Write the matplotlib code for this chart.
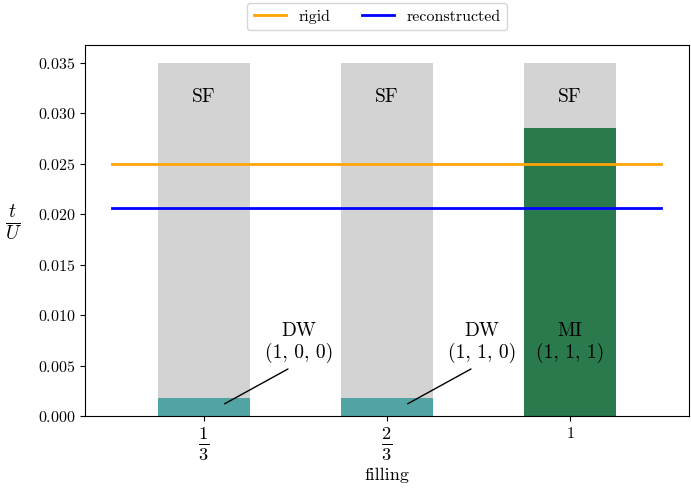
import numpy as np
import matplotlib
matplotlib.use("Agg")
import matplotlib.pyplot as plt

plt.rcParams['font.family'] = 'cmr10'
plt.rcParams['mathtext.fontset'] = 'cm'
plt.rcParams['axes.formatter.use_mathtext'] = True

# phase diagram data per filling
fillings = [r'$\frac{1}{3}$', r'$\frac{2}{3}$', r'$1$']
t_max = [0.035, 0.035, 0.035]          # top of the SF region
t_c = [0.0018, 0.0018, 0.0285]         # insulating -> SF transition
phase_names = ['DW\n(1, 0, 0)', 'DW\n(1, 1, 0)', 'MI\n(1, 1, 1)']
phase_colors = ['#52a3a3', '#52a3a3', '#2a7a4e']
t_rigid = 0.025
t_reconstructed = 0.0206

x = np.arange(len(fillings))
width = 0.5

fig = plt.figure(figsize=(6.91, 4.90), dpi=100)
ax = fig.add_axes([0.123, 0.151, 0.874, 0.757])

ax.bar(x, t_max, width, color='lightgray')
ax.bar(x, t_c, width, color=phase_colors)

ax.plot([-0.5, 2.5], [t_rigid, t_rigid], color='orange', lw=2, label='rigid')
ax.plot([-0.5, 2.5], [t_reconstructed, t_reconstructed], color='blue', lw=2,
        label='reconstructed')

for xi, top in zip(x, t_max):
    ax.text(xi, top - 0.0034, 'SF', ha='center', va='center', fontsize=14)

# DW labels sit beside the thin bars with a pointer line
for xi, tc, name in zip(x[:2], t_c[:2], phase_names[:2]):
    ax.annotate(name, xy=(xi + 0.1, tc * 0.6), xytext=(xi + 0.52, 0.0073),
                ha='center', va='center', fontsize=14,
                arrowprops=dict(arrowstyle='-', color='black', lw=1,
                                relpos=(0.5, 0), shrinkA=5))
ax.text(x[2], 0.0073, phase_names[2], ha='center', va='center', fontsize=14)

ax.set_xticks(x)
ax.set_xticklabels(fillings)
# fractions get a bigger size so their digits match the plain "1"
for lab in ax.get_xticklabels():
    lab.set_fontsize(19 if 'frac' in lab.get_text() else 11.5)
ax.tick_params(axis='y', labelsize=11.5)
ax.set_xlabel('filling', fontsize=13)
ax.xaxis.set_label_coords(0.5, -0.138)
ax.set_ylabel(r'$\frac{t}{U}$', fontsize=20, rotation=0, va='center', ha='center')
ax.yaxis.set_label_coords(-0.118, 0.52)

fig.legend(loc='upper center', bbox_to_anchor=(0.546, 1.01), ncol=2, fontsize=11.5)

fig.savefig('out.png', dpi=100)
